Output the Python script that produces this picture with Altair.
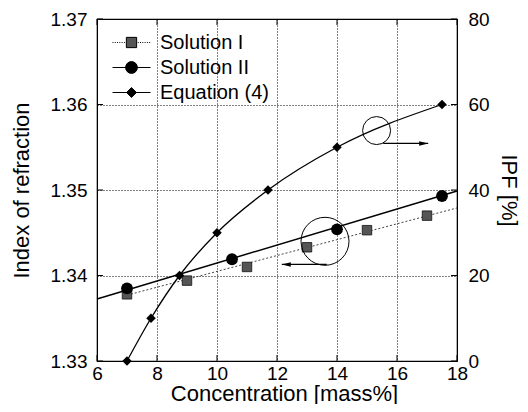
import altair as alt
import pandas as pd

# ---------------- data ----------------
x_ticks = [6, 8, 10, 12, 14, 16, 18]
n_ticks = [1.33, 1.34, 1.35, 1.36, 1.37]
ipf_ticks = [0, 20, 40, 60, 80]

sol1_x = [7, 9, 11, 13, 15, 17]
sol1_n = [1.3378, 1.3394, 1.3410, 1.3433, 1.3453, 1.3470]
sol1_fit_x = [7, 18]
sol1_fit_n = [1.3377, 1.3479]

sol2_x = [7, 10.5, 14, 17.5]
sol2_n = [1.3385, 1.3419, 1.3454, 1.3493]
sol2_fit_x = [6, 18]
sol2_fit_n = [1.33725, 1.34988]

eq_x = [7, 7.8, 8.75, 10, 11.7, 14, 17.5]
eq_ipf = [0, 10, 20, 30, 40, 50, 60]

series = ["Solution I", "Solution II", "Equation (4)"]

# annotation circles / arrows (data coordinates)
circ_left_x = [13.6]
circ_left_n = [1.3440]
arrow_left_x = [13.66]
arrow_left_x2 = [12.16]
arrow_left_n = [1.3413]

circ_right_x = [15.32]
circ_right_p = [53.9]
arrow_right_x = [15.54]
arrow_right_x2 = [17.04]
arrow_right_p = [50.9]

# ---------------- styling helpers ----------------
FONT = "Liberation Sans"
W, H = 360, 342

x_scale = alt.Scale(domain=[6, 18], nice=False, zero=False)
n_scale = alt.Scale(domain=[1.33, 1.37], nice=False, zero=False)
p_scale = alt.Scale(domain=[0, 80], nice=False, zero=False)

x_axis = alt.Axis(values=x_ticks, format="d", title="Concentration [mass%]",
                  ticks=False, tickSize=0, labelPadding=3, grid=True,
                  gridColor="black", gridDash=[1, 2], gridWidth=1,
                  domainColor="black", labelFont=FONT, labelFontSize=19,
                  labelColor="black", titleFont=FONT, titleFontSize=22,
                  titleFontWeight="normal", titleColor="black",
                  titleX=187, titleY=39, titleBaseline="alphabetic",
                  titleAlign="center", labelFlush=False)
n_axis = alt.Axis(values=n_ticks, format=".2f", title="Index of refraction",
                  ticks=False, tickSize=0, labelPadding=10, grid=True,
                  gridColor="black", gridDash=[1, 2], gridWidth=1,
                  domainColor="black", labelFont=FONT, labelFontSize=19,
                  labelColor="black", titleFont=FONT, titleFontSize=22,
                  titleFontWeight="normal", titleColor="black",
                  titleX=-76, titleY=171, titleAngle=270, titleBaseline="middle",
                  titleAlign="center", labelFlush=False)
p_axis = alt.Axis(values=ipf_ticks, format="d", title="IPF [%]", orient="right",
                  ticks=False, tickSize=0, labelPadding=11, grid=False,
                  domainColor="black", labelFont=FONT, labelFontSize=19,
                  labelColor="black", titleFont=FONT, titleFontSize=22,
                  titleFontWeight="normal", titleColor="black",
                  titleX=51, titleY=171, titleAngle=90, titleBaseline="middle",
                  titleAlign="center", labelFlush=False)

X = lambda f="x": alt.X(f"{f}:Q", scale=x_scale, axis=x_axis)
YN = lambda f="n": alt.Y(f"{f}:Q", scale=n_scale, axis=n_axis)
YP = lambda f="p": alt.Y(f"{f}:Q", scale=p_scale, axis=p_axis)

# ---------------- frames ----------------
df_s1 = pd.DataFrame({"x": sol1_x, "n": sol1_n})
df_s1fit = pd.DataFrame({"x": sol1_fit_x, "n": sol1_fit_n})
df_s2 = pd.DataFrame({"x": sol2_x, "n": sol2_n})
df_s2fit = pd.DataFrame({"x": sol2_fit_x, "n": sol2_fit_n})
df_eq = pd.DataFrame({"x": eq_x, "p": eq_ipf})
df_xt = pd.DataFrame({"x": x_ticks})
df_nt = pd.DataFrame({"n": n_ticks})
df_pt = pd.DataFrame({"p": ipf_ticks})
df_cl = pd.DataFrame({"x": circ_left_x, "n": circ_left_n})
df_al = pd.DataFrame({"x": arrow_left_x, "x2": arrow_left_x2, "n": arrow_left_n})
df_cr = pd.DataFrame({"x": circ_right_x, "p": circ_right_p})
df_ar = pd.DataFrame({"x": arrow_right_x, "x2": arrow_right_x2, "p": arrow_right_p})
df_leg = pd.DataFrame({"series": series, "x": [6] * 3, "n": [1.33] * 3})

# ---------------- legend symbol paths ----------------
def dotted(a, b, step=0.12, dash=0.05):
    s = ""
    v = a
    while v < b - 1e-9:
        e = min(v + dash, b)
        s += f"M{v:.3f},0L{e:.3f},0"
        v += step
    return s

sq = 0.27
path_s1 = dotted(-1, -0.3) + dotted(0.33, 1.0) + \
    f"M{-sq},{-sq}L{sq},{-sq}L{sq},{sq}L{-sq},{sq}Z"
rc = 0.31
path_s2 = f"M-1,0L1,0M{rc},0A{rc},{rc} 0 1 1 {-rc},0A{rc},{rc} 0 1 1 {rc},0Z"
dm = 0.26
path_eq = f"M-1,0L1,0M0,{-dm}L{dm},0L0,{dm}L{-dm},0Z"

legend = alt.Legend(orient="none", legendX=15, legendY=12, title=None,
                    labelFont=FONT, labelFontSize=20, labelColor="black",
                    symbolSize=1444, symbolStrokeColor="black",
                    symbolStrokeWidth=1, labelOffset=9, rowPadding=2,
                    clipHeight=23, padding=0, symbolOpacity=1)

# ---------------- left (index of refraction) layers ----------------
tick_len = 6
left_layers = [
    alt.Chart(df_s1fit).mark_line(color="#444", strokeDash=[2, 2], strokeWidth=1)
    .encode(x=X(), y=YN()),
    alt.Chart(df_s2fit).mark_line(color="black", strokeWidth=1.5)
    .encode(x=X(), y=YN()),
    alt.Chart(df_s1).mark_point(shape="square", filled=True, fill="#555",
                                stroke="#111", strokeWidth=0.8, size=90, opacity=1)
    .encode(x=X(), y=YN()),
    alt.Chart(df_s2).mark_point(shape="circle", filled=True, color="black",
                                size=140, opacity=1)
    .encode(x=X(), y=YN()),
    alt.Chart(df_cl).mark_point(shape="circle", filled=False, color="black",
                                strokeWidth=1, size=2304, opacity=1)
    .encode(x=X(), y=YN()),
    alt.Chart(df_al).mark_rule(color="black", strokeWidth=1.2)
    .encode(x=X(), x2="x2:Q", y=YN()),
    alt.Chart(df_al).mark_point(shape="M0,0L2,-0.5L2,0.5Z", filled=True,
                                color="black", size=81, opacity=1)
    .encode(x=X("x2"), y=YN()),
    # inward ticks
    alt.Chart(df_nt).mark_rule(color="black", strokeWidth=1)
    .encode(y=YN(), x=alt.value(0), x2=alt.value(tick_len)),
    alt.Chart(df_xt).mark_rule(color="black", strokeWidth=1)
    .encode(x=X(), y=alt.value(H), y2=alt.value(H - tick_len)),
    alt.Chart(df_xt).mark_rule(color="black", strokeWidth=1)
    .encode(x=X(), y=alt.value(0), y2=alt.value(tick_len)),
    # legend
    alt.Chart(df_leg).mark_point(filled=True, opacity=1)
    .transform_filter("false")
    .encode(x=X(), y=YN(),
            shape=alt.Shape("series:N",
                            scale=alt.Scale(domain=series,
                                            range=[path_s1, path_s2, path_eq]),
                            legend=legend),
            fill=alt.Fill("series:N",
                          scale=alt.Scale(domain=series,
                                          range=["#555", "black", "black"]),
                          legend=legend),
            stroke=alt.Stroke("series:N",
                              scale=alt.Scale(domain=series,
                                              range=["black", "black", "black"]),
                              legend=legend)),
]

# ---------------- right (IPF) layers ----------------
right_layers = [
    alt.Chart(df_eq).mark_line(color="black", strokeWidth=1.3, interpolate="monotone")
    .encode(x=X(), y=YP()),
    alt.Chart(df_eq).mark_point(shape="diamond", filled=True, color="black",
                                size=90, opacity=1)
    .encode(x=X(), y=YP()),
    alt.Chart(df_cr).mark_point(shape="circle", filled=False, color="black",
                                strokeWidth=1, size=784, opacity=1)
    .encode(x=X(), y=YP()),
    alt.Chart(df_ar).mark_rule(color="black", strokeWidth=1.2)
    .encode(x=X(), x2="x2:Q", y=YP()),
    alt.Chart(df_ar).mark_point(shape="M0,0L-2,-0.5L-2,0.5Z", filled=True,
                                color="black", size=81, opacity=1)
    .encode(x=X("x2"), y=YP()),
    alt.Chart(df_pt).mark_rule(color="black", strokeWidth=1)
    .encode(y=YP(), x=alt.value(W - tick_len), x2=alt.value(W)),
]

left = alt.layer(*left_layers)
right = alt.layer(*right_layers)

chart = (
    alt.layer(left, right)
    .resolve_scale(y="independent", shape="independent", fill="independent",
                   stroke="independent")
    .properties(width=W, height=H,
                autosize=alt.AutoSizeParams(type="none"),
                padding={"left": 89, "top": 11, "right": 63, "bottom": 43},
                background="white")
    .configure_view(stroke="black", strokeWidth=1.2)
)

chart.save("out.html", embed_options={"renderer": "svg", "actions": False})
